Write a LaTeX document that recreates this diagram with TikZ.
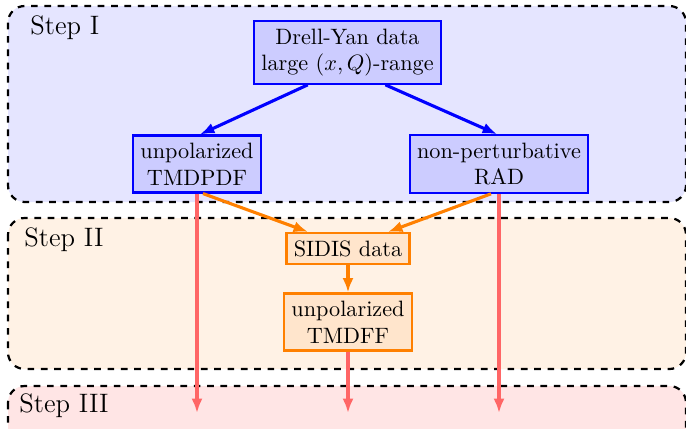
\documentclass[tikz,border=0pt]{standalone}
\usetikzlibrary{arrows.meta,calc}
\begin{document}
\begin{tikzpicture}[x=0.45pt,y=-0.45pt,
  stepframe/.style={draw=black,line width=1pt,dashed,rounded corners=7.5pt},
  steplabel/.style={anchor=base west,font=\large,inner sep=0pt},
  bluebox/.style={draw=blue,line width=1pt,fill=blue!20,align=center},
  orangebox/.style={draw=orange,line width=1pt,fill=orange!20,align=center},
  tip/.style={-{Latex[length=6.5pt,width=5pt]}},
  bluearrow/.style={tip,draw=blue,line width=1.4pt},
  orangearrow/.style={tip,draw=orange,line width=1.4pt},
  redarrow/.style={tip,draw=red!60,line width=1.4pt},
]
\useasboundingbox (0,0) rectangle (686,428);
\begin{scope}
  \clip (0,0) rectangle (686,428);
  % stage frames
  \draw[stepframe,fill=blue!10]   (8,6)   rectangle (686,202);
  \draw[stepframe,fill=orange!10] (8,218) rectangle (686,369);
  \draw[stepframe,fill=red!10]    (8,386) rectangle (686,470);
\end{scope}
\node[steplabel] (s1) at (30,34)  {Step I};
\node[steplabel] (s2) at (24,246) {Step II};
\node[steplabel] (s3) at (19,412) {Step III};

% boxes
\node[bluebox] (dy)  at (347.5,52.5) {Drell-Yan data\\large $(x,Q)$-range};
\node[bluebox] (pdf) at (197,164)  {unpolarized\\TMDPDF};
\node[bluebox] (rad) at (499,164)  {non-perturbative\\RAD};
\node[orangebox] (sidis) at (348,248.5) {SIDIS data};
\node[orangebox] (ff)    at (348,322)   {unpolarized\\TMDFF};

% end points in step III
\coordinate (epdf) at (197,413);
\coordinate (eff)  at (348,413);
\coordinate (erad) at (499,413);

% step I
\draw[bluearrow] ($(dy.south west)!0.29!(dy.south east)$) -- ($(pdf.north)+(3,0)$);
\draw[bluearrow] ($(dy.south west)!0.70!(dy.south east)$) -- ($(rad.north)+(-2,0)$);

% step III
\draw[redarrow] (pdf.south) -- (epdf);
\draw[redarrow] (rad.south) -- (erad);
\draw[redarrow] (ff.south) -- (eff);

% step II
\draw[orangearrow] ($(pdf.south)+(6,0)$) -- ($(sidis.north)+(-40,0)$);
\draw[orangearrow] ($(rad.south)+(-8,0)$) -- ($(sidis.north)+(40,0)$);
\draw[orangearrow] (sidis) -- (ff);
\end{tikzpicture}
\end{document}
